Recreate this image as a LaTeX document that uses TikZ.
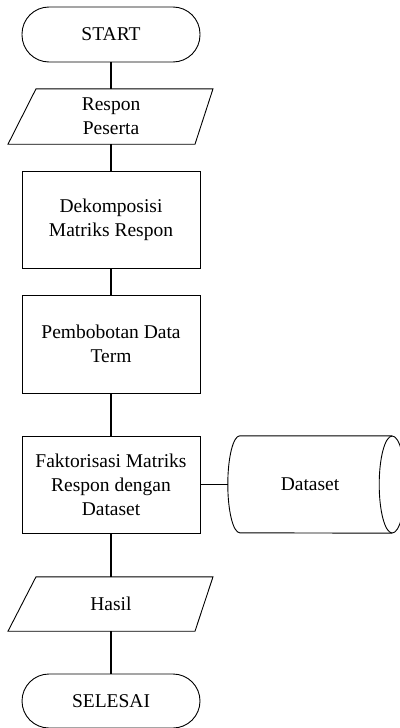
\documentclass[tikz,border=0pt]{standalone}
\usepackage{fontspec}
\setmainfont{Liberation Serif}
\usetikzlibrary{calc}
\begin{document}
\begin{tikzpicture}[x=1pt,y=1pt,
  every node/.style={font=\fontsize{19.5}{24}\selectfont, align=center, inner sep=0pt},
  shapeline/.style={line width=0.9pt},
  conn/.style={line width=1.2pt},
  term/.style={draw, shapeline, rectangle, rounded corners=27pt, minimum width=178pt, minimum height=55pt},
  proc/.style={draw, shapeline, rectangle, minimum width=178pt},
  iobox/.style={minimum width=178pt}
]
\useasboundingbox (0,0) rectangle (399,-728);
\node[term] (start) at (111,-34.5) {START};
\node[iobox, minimum height=55pt] (resp) at (111,-116.5) {Respon\\Peserta};
\node[proc, minimum height=97pt] (dek) at (111,-219.5) {Dekomposisi\\Matriks Respon};
\node[proc, minimum height=98pt] (pem) at (111,-344) {Pembobotan Data\\Term};
\node[proc, minimum height=97pt] (fak) at (111,-484.5) {Faktorisasi Matriks\\Respon dengan\\Dataset};
\node[minimum width=164pt, minimum height=97pt] (ds) at (310,-484.5) {Dataset};
\node[iobox, minimum height=54pt] (hasil) at (111,-604) {Hasil};
\node[term, minimum height=54pt] (sel) at (111,-701) {SELESAI};
% parallelograms
\draw[shapeline] ($(resp.north)+(-75,0)$) -- ($(resp.north)+(102,0)$) -- ($(resp.south)+(84,0)$) -- ($(resp.south)+(-103,0)$) -- cycle;
\draw[shapeline] ($(hasil.north)+(-75,0)$) -- ($(hasil.north)+(102,0)$) -- ($(hasil.south)+(84,0)$) -- ($(hasil.south)+(-103,0)$) -- cycle;
% stored data
\draw[shapeline] (ds.north east) -- ([xshift=12pt]ds.north west)
  arc[start angle=90, end angle=270, x radius=12pt, y radius=48.5pt] -- (ds.south east);
\draw[shapeline] (ds.east) ellipse [x radius=13pt, y radius=48.5pt];
% connectors
\draw[conn] (start) -- (resp);
\draw[conn] (resp) -- (dek);
\draw[conn] (dek) -- (pem);
\draw[conn] (pem) -- (fak);
\draw[conn] (fak) -- (ds);
\draw[conn] (fak) -- (hasil);
\draw[conn] (hasil) -- (sel);
\end{tikzpicture}
\end{document}
